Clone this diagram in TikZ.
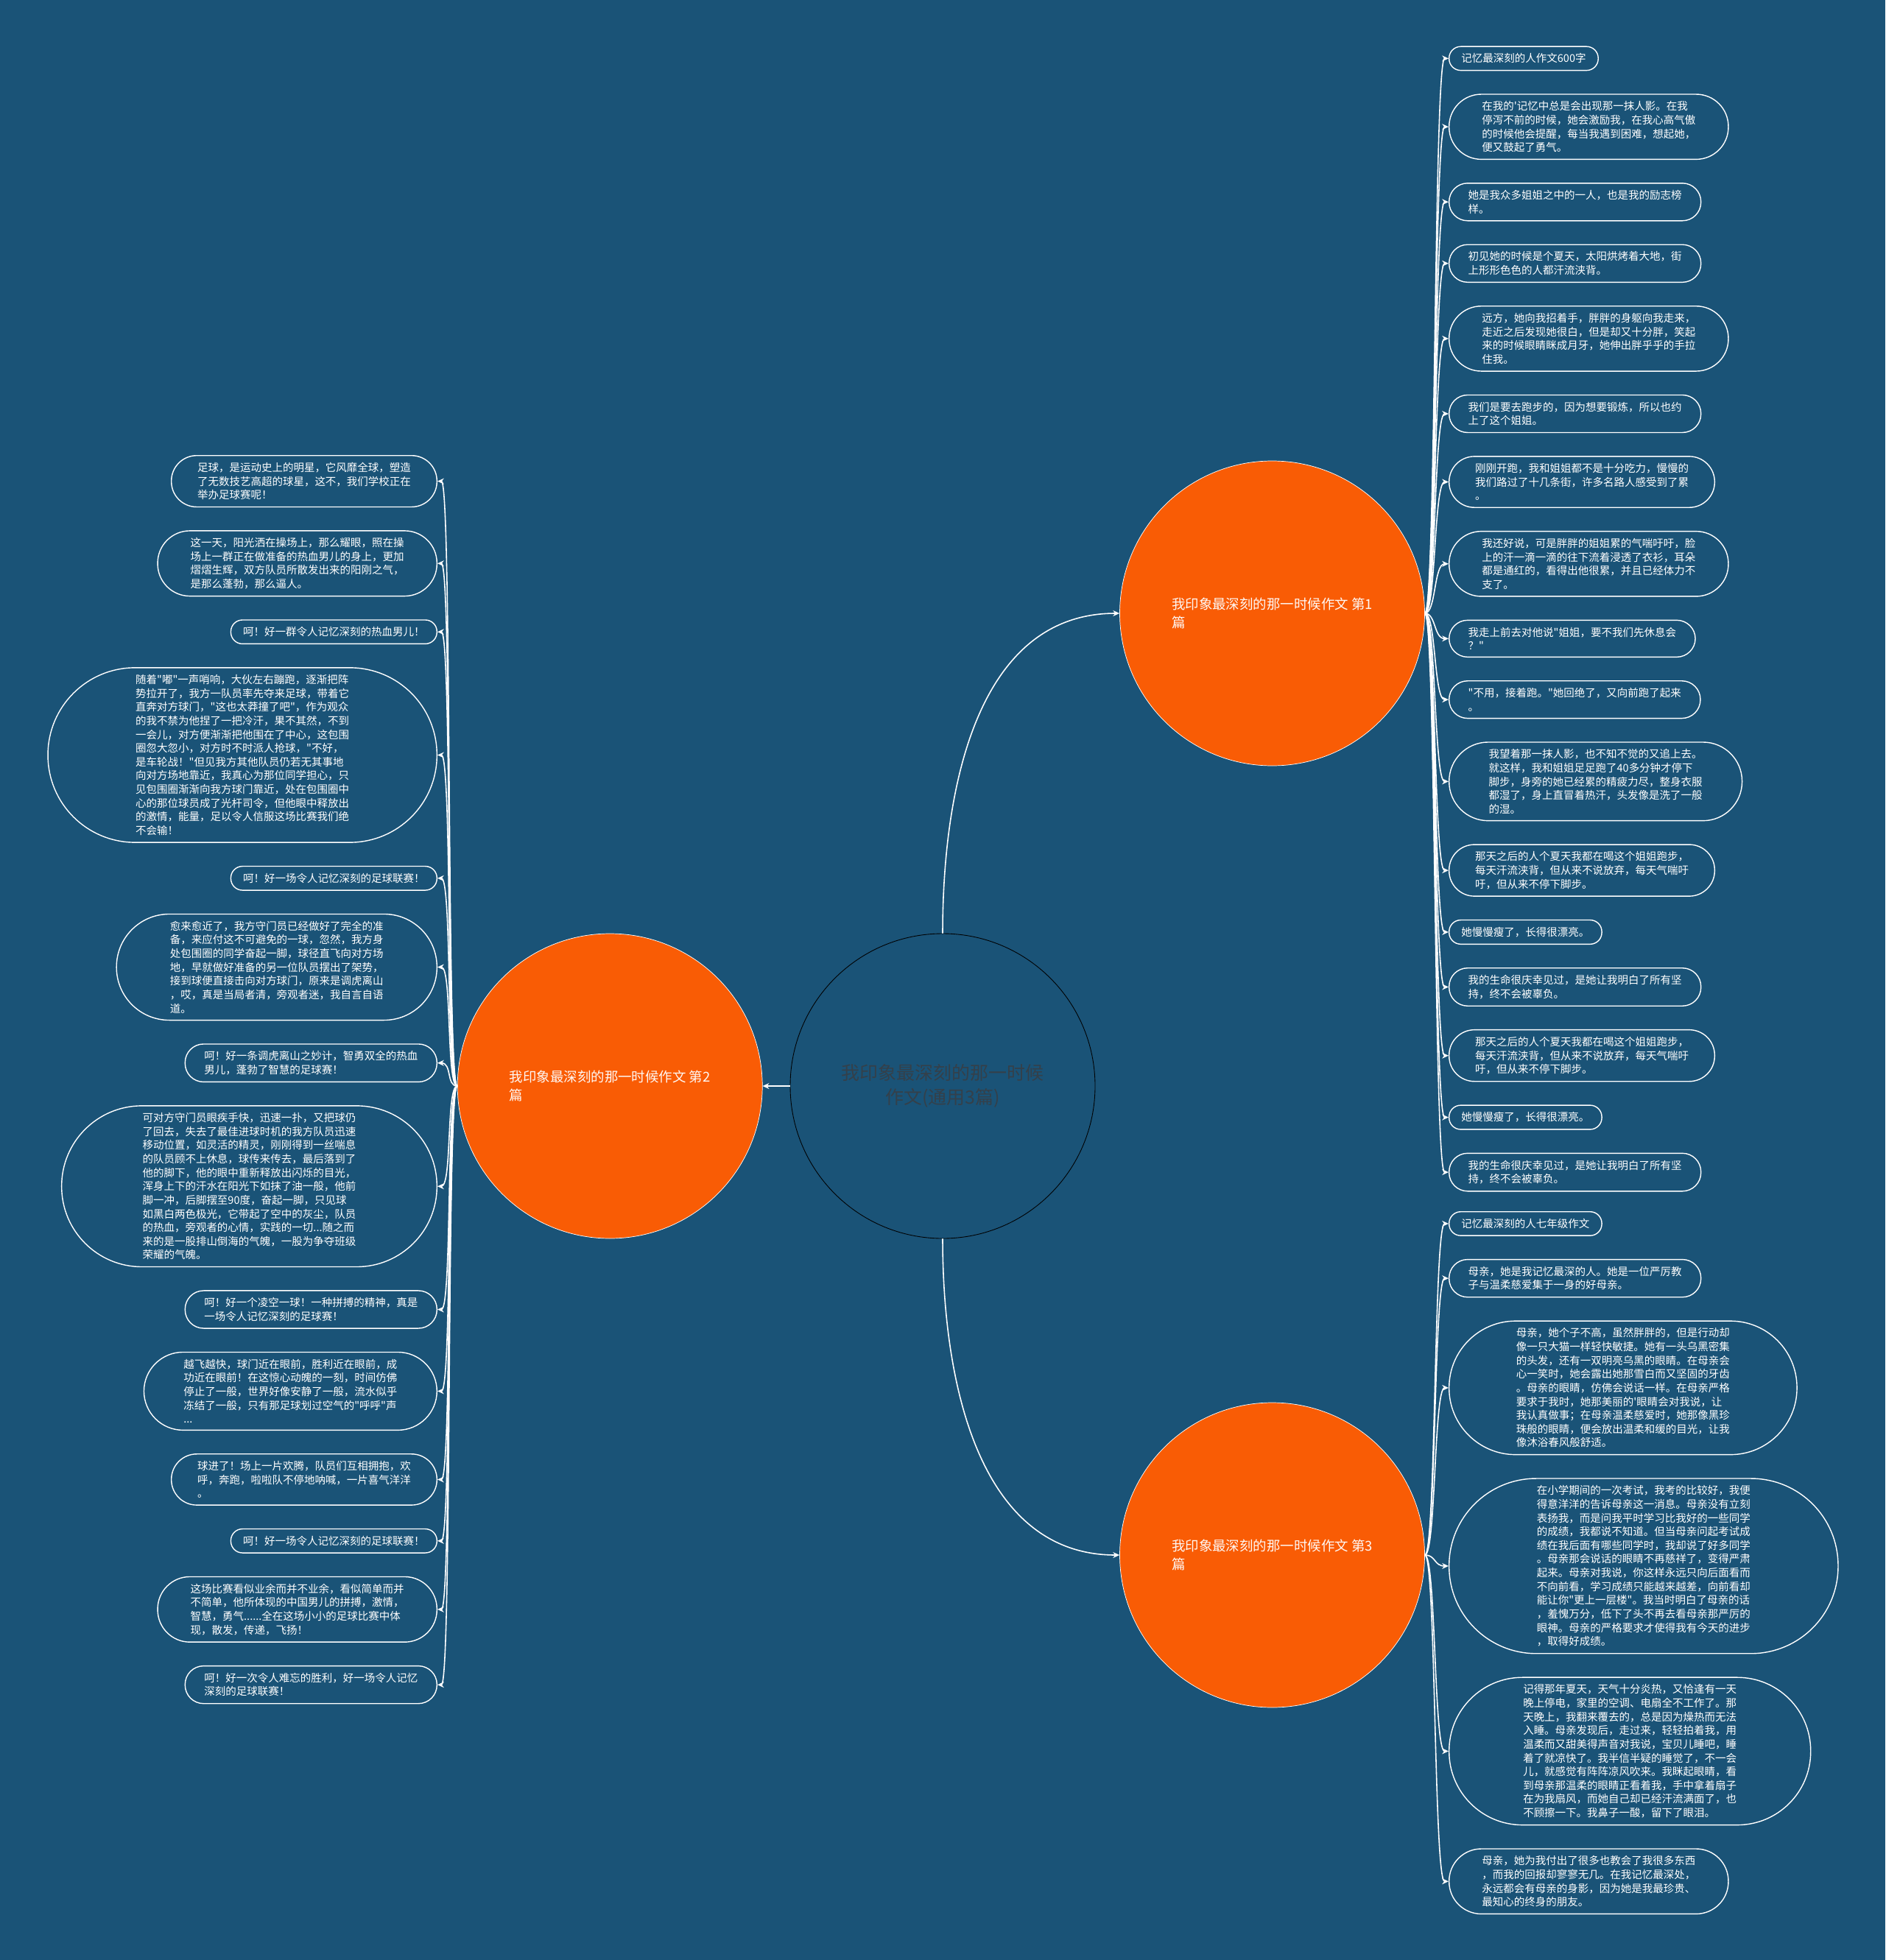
\documentclass[tikz,border=0pt]{standalone}
\usepackage{fontspec}
\usepackage{xcolor}
\usepackage{tikz}
\usetikzlibrary{arrows.meta, positioning, calc}
\newfontfamily\cjk{Noto Sans CJK SC}
\definecolor{MapBlue}{HTML}{1A5377}
\definecolor{EssayOrange}{HTML}{F95C05}
\definecolor{RootText}{HTML}{34404A}
\newcommand{\leaffont}{\cjk\fontsize{8.25pt}{10.6pt}\selectfont}
\newcommand{\essayfont}{\cjk\fontsize{10.5pt}{14.3pt}\selectfont}
\newcommand{\rootfont}{\cjk\fontsize{14.2pt}{18.8pt}\selectfont}

\begin{document}
\begin{tikzpicture}[
    node distance=0.62cm,
    % #1 = number of text lines, sets the round ends
    leaf/.style={draw=white, line width=0.8pt, rectangle, rounded corners={3.7pt+5.3pt*#1},
                 inner xsep={4.2pt+5.3pt*#1}, inner ysep=5.4pt, align=left, text=white, font=\leaffont},
    essay/.style={circle, fill=EssayOrange, draw=white, line width=0.4pt, minimum size=8.28cm,
                  inner sep=0pt, align=left, text=white!95!EssayOrange, font=\essayfont},
    rootnode/.style={circle, fill=MapBlue, draw=black, line width=0.5pt, minimum size=8.28cm,
                     inner sep=0pt, align=center, text=RootText, font=\rootfont},
    link/.style={-{Stealth[length=5pt, width=4.5pt]}, white, line width=0.9pt}
  ]
    % Background and page frame
    \fill[MapBlue] (0,0) rectangle (51.2,-53.24);
    \useasboundingbox (0,0) rectangle (51.2,-53.24);

    % Centre and the three essays
    \node[rootnode] (root) at (25.6,-29.5) {我印象最深刻的那一时候\\作文(通用3篇)};
    \node[essay] (essay1) at (34.55,-16.66) {我印象最深刻的那一时候作文 第1\\篇};
    \node[essay, left=0.74cm of root] (essay2) {我印象最深刻的那一时候作文 第2\\篇};
    \node[essay] (essay3) at (34.55,-42.24) {我印象最深刻的那一时候作文 第3\\篇};

    % Essay 1 paragraphs
    \node[leaf=1, anchor=north west] (a1) at (39.34,-1.25) {记忆最深刻的人作文600字};
    \node[leaf=4, below=of a1.south west, anchor=north west] (a2)
      {在我的'记忆中总是会出现那一抹人影。在我\\停泻不前的时候，她会激励我，在我心高气傲\\的时候他会提醒，每当我遇到困难，想起她，\\便又鼓起了勇气。};
    \node[leaf=2, below=of a2.south west, anchor=north west] (a3)
      {她是我众多姐姐之中的一人，也是我的励志榜\\样。};
    \node[leaf=2, below=of a3.south west, anchor=north west] (a4)
      {初见她的时候是个夏天，太阳烘烤着大地，街\\上形形色色的人都汗流浃背。};
    \node[leaf=4, below=of a4.south west, anchor=north west] (a5)
      {远方，她向我招着手，胖胖的身躯向我走来，\\走近之后发现她很白，但是却又十分胖，笑起\\来的时候眼睛眯成月牙，她伸出胖乎乎的手拉\\住我。};
    \node[leaf=2, below=of a5.south west, anchor=north west] (a6)
      {我们是要去跑步的，因为想要锻炼，所以也约\\上了这个姐姐。};
    \node[leaf=3, below=of a6.south west, anchor=north west] (a7)
      {刚刚开跑，我和姐姐都不是十分吃力，慢慢的\\我们路过了十几条街，许多名路人感受到了累\\。};
    \node[leaf=4, below=of a7.south west, anchor=north west] (a8)
      {我还好说，可是胖胖的姐姐累的气喘吁吁，脸\\上的汗一滴一滴的往下流着浸透了衣衫，耳朵\\都是通红的，看得出他很累，并且已经体力不\\支了。};
    \node[leaf=2, below=of a8.south west, anchor=north west] (a9)
      {我走上前去对他说"姐姐，要不我们先休息会\\？"};
    \node[leaf=2, below=of a9.south west, anchor=north west] (a10)
      {"不用，接着跑。"她回绝了，又向前跑了起来\\。};
    \node[leaf=5, below=of a10.south west, anchor=north west] (a11)
      {我望着那一抹人影，也不知不觉的又追上去。\\就这样，我和姐姐足足跑了40多分钟才停下\\脚步，身旁的她已经累的精疲力尽，整身衣服\\都湿了，身上直冒着热汗，头发像是洗了一般\\的湿。};
    \node[leaf=3, below=of a11.south west, anchor=north west] (a12)
      {那天之后的人个夏天我都在喝这个姐姐跑步，\\每天汗流浃背，但从来不说放弃，每天气喘吁\\吁，但从来不停下脚步。};
    \node[leaf=1, below=of a12.south west, anchor=north west] (a13) {她慢慢瘦了，长得很漂亮。};
    \node[leaf=2, below=of a13.south west, anchor=north west] (a14)
      {我的生命很庆幸见过，是她让我明白了所有坚\\持，终不会被辜负。};
    \node[leaf=3, below=of a14.south west, anchor=north west] (a15)
      {那天之后的人个夏天我都在喝这个姐姐跑步，\\每天汗流浃背，但从来不说放弃，每天气喘吁\\吁，但从来不停下脚步。};
    \node[leaf=1, below=of a15.south west, anchor=north west] (a16) {她慢慢瘦了，长得很漂亮。};
    \node[leaf=2, below=of a16.south west, anchor=north west] (a17)
      {我的生命很庆幸见过，是她让我明白了所有坚\\持，终不会被辜负。};

    % Essay 2 paragraphs
    \node[leaf=3, anchor=north east] (b1) at (11.88,-12.36)
      {足球，是运动史上的明星，它风靡全球，塑造\\了无数技艺高超的球星，这不，我们学校正在\\举办足球赛呢！};
    \node[leaf=4, below=of b1.south east, anchor=north east] (b2)
      {这一天，阳光洒在操场上，那么耀眼，照在操\\场上一群正在做准备的热血男儿的身上，更加\\熠熠生辉，双方队员所散发出来的阳刚之气，\\是那么蓬勃，那么逼人。};
    \node[leaf=1, below=of b2.south east, anchor=north east] (b3) {呵！好一群令人记忆深刻的热血男儿！};
    \node[leaf=12, below=of b3.south east, anchor=north east] (b4)
      {随着"嘟"一声哨响，大伙左右蹦跑，逐渐把阵\\势拉开了，我方一队员率先夺来足球，带着它\\直奔对方球门，"这也太莽撞了吧"，作为观众\\的我不禁为他捏了一把冷汗，果不其然，不到\\一会儿，对方便渐渐把他围在了中心，这包围\\圈忽大忽小，对方时不时派人抢球，"不好，\\是车轮战！"但见我方其他队员仍若无其事地\\向对方场地靠近，我真心为那位同学担心，只\\见包围圈渐渐向我方球门靠近，处在包围圈中\\心的那位球员成了光杆司令，但他眼中释放出\\的激情，能量，足以令人信服这场比赛我们绝\\不会输！};
    \node[leaf=1, below=of b4.south east, anchor=north east] (b5) {呵！好一场令人记忆深刻的足球联赛！};
    \node[leaf=7, below=of b5.south east, anchor=north east] (b6)
      {愈来愈近了，我方守门员已经做好了完全的准\\备，来应付这不可避免的一球，忽然，我方身\\处包围圈的同学奋起一脚，球径直飞向对方场\\地，早就做好准备的另一位队员摆出了架势，\\接到球便直接击向对方球门，原来是调虎离山\\，哎，真是当局者清，旁观者迷，我自言自语\\道。};
    \node[leaf=2, below=of b6.south east, anchor=north east] (b7)
      {呵！好一条调虎离山之妙计，智勇双全的热血\\男儿，蓬勃了智慧的足球赛！};
    \node[leaf=11, below=of b7.south east, anchor=north east] (b8)
      {可对方守门员眼疾手快，迅速一扑，又把球仍\\了回去，失去了最佳进球时机的我方队员迅速\\移动位置，如灵活的精灵，刚刚得到一丝喘息\\的队员顾不上休息，球传来传去，最后落到了\\他的脚下，他的眼中重新释放出闪烁的目光，\\浑身上下的汗水在阳光下如抹了油一般，他前\\脚一冲，后脚摆至90度，奋起一脚，只见球\\如黑白两色极光，它带起了空中的灰尘，队员\\的热血，旁观者的心情，实践的一切...随之而\\来的是一股排山倒海的气魄，一股为争夺班级\\荣耀的气魄。};
    \node[leaf=2, below=of b8.south east, anchor=north east] (b9)
      {呵！好一个凌空一球！一种拼搏的精神，真是\\一场令人记忆深刻的足球赛！};
    \node[leaf=5, below=of b9.south east, anchor=north east] (b10)
      {越飞越快，球门近在眼前，胜利近在眼前，成\\功近在眼前！在这惊心动魄的一刻，时间仿佛\\停止了一般，世界好像安静了一般，流水似乎\\冻结了一般，只有那足球划过空气的"呼呼"声\\...};
    \node[leaf=3, below=of b10.south east, anchor=north east] (b11)
      {球进了！场上一片欢腾，队员们互相拥抱，欢\\呼，奔跑，啦啦队不停地呐喊，一片喜气洋洋\\。};
    \node[leaf=1, below=of b11.south east, anchor=north east] (b12) {呵！好一场令人记忆深刻的足球联赛！};
    \node[leaf=4, below=of b12.south east, anchor=north east] (b13)
      {这场比赛看似业余而并不业余，看似简单而并\\不简单，他所体现的中国男儿的拼搏，激情，\\智慧，勇气......全在这场小小的足球比赛中体\\现，散发，传递，飞扬！};
    \node[leaf=2, below=of b13.south east, anchor=north east] (b14)
      {呵！好一次令人难忘的胜利，好一场令人记忆\\深刻的足球联赛！};

    % Essay 3 paragraphs
    \node[leaf=1, anchor=north west] (c1) at (39.34,-32.9) {记忆最深刻的人七年级作文};
    \node[leaf=2, below=of c1.south west, anchor=north west] (c2)
      {母亲，她是我记忆最深的人。她是一位严厉教\\子与温柔慈爱集于一身的好母亲。};
    \node[leaf=9, below=of c2.south west, anchor=north west] (c3)
      {母亲，她个子不高，虽然胖胖的，但是行动却\\像一只大猫一样轻快敏捷。她有一头乌黑密集\\的头发，还有一双明亮乌黑的眼睛。在母亲会\\心一笑时，她会露出她那雪白而又坚固的牙齿\\。母亲的眼睛，仿佛会说话一样。在母亲严格\\要求于我时，她那美丽的'眼睛会对我说，让\\我认真做事；在母亲温柔慈爱时，她那像黑珍\\珠般的眼睛，便会放出温柔和缓的目光，让我\\像沐浴春风般舒适。};
    \node[leaf=12, below=of c3.south west, anchor=north west] (c4)
      {在小学期间的一次考试，我考的比较好，我便\\得意洋洋的告诉母亲这一消息。母亲没有立刻\\表扬我，而是问我平时学习比我好的一些同学\\的成绩，我都说不知道。但当母亲问起考试成\\绩在我后面有哪些同学时，我却说了好多同学\\。母亲那会说话的眼睛不再慈祥了，变得严肃\\起来。母亲对我说，你这样永远只向后面看而\\不向前看，学习成绩只能越来越差，向前看却\\能让你"更上一层楼"。我当时明白了母亲的话\\，羞愧万分，低下了头不再去看母亲那严厉的\\眼神。母亲的严格要求才使得我有今天的进步\\，取得好成绩。};
    \node[leaf=10, below=of c4.south west, anchor=north west] (c5)
      {记得那年夏天，天气十分炎热，又恰逢有一天\\晚上停电，家里的空调、电扇全不工作了。那\\天晚上，我翻来覆去的，总是因为燥热而无法\\入睡。母亲发现后，走过来，轻轻拍着我，用\\温柔而又甜美得声音对我说，宝贝儿睡吧，睡\\着了就凉快了。我半信半疑的睡觉了，不一会\\儿，就感觉有阵阵凉风吹来。我眯起眼睛，看\\到母亲那温柔的眼睛正看着我，手中拿着扇子\\在为我扇风，而她自己却已经汗流满面了，也\\不顾擦一下。我鼻子一酸，留下了眼泪。};
    \node[leaf=4, below=of c5.south west, anchor=north west] (c6)
      {母亲，她为我付出了很多也教会了我很多东西\\，而我的回报却寥寥无几。在我记忆最深处，\\永远都会有母亲的身影，因为她是我最珍贵、\\最知心的终身的朋友。};

    % Centre to essays
    \draw[link] (root.north) to[out=90, in=180] (essay1.west);
    \draw[link] (root.west) -- (essay2.east);
    \draw[link] (root.south) to[out=-90, in=180] (essay3.west);

    % Essay 1 to its paragraphs
    \draw[link] (essay1.east) .. controls +(0.3,0) and +(-0.4,0) .. (a1.west);
    \draw[link] (essay1.east) .. controls +(0.3,0) and +(-0.4,0) .. (a2.west);
    \draw[link] (essay1.east) .. controls +(0.3,0) and +(-0.4,0) .. (a3.west);
    \draw[link] (essay1.east) .. controls +(0.3,0) and +(-0.4,0) .. (a4.west);
    \draw[link] (essay1.east) .. controls +(0.3,0) and +(-0.4,0) .. (a5.west);
    \draw[link] (essay1.east) .. controls +(0.3,0) and +(-0.4,0) .. (a6.west);
    \draw[link] (essay1.east) .. controls +(0.3,0) and +(-0.4,0) .. (a7.west);
    \draw[link] (essay1.east) .. controls +(0.3,0) and +(-0.4,0) .. (a8.west);
    \draw[link] (essay1.east) .. controls +(0.3,0) and +(-0.4,0) .. (a9.west);
    \draw[link] (essay1.east) .. controls +(0.3,0) and +(-0.4,0) .. (a10.west);
    \draw[link] (essay1.east) .. controls +(0.3,0) and +(-0.4,0) .. (a11.west);
    \draw[link] (essay1.east) .. controls +(0.3,0) and +(-0.4,0) .. (a12.west);
    \draw[link] (essay1.east) .. controls +(0.3,0) and +(-0.4,0) .. (a13.west);
    \draw[link] (essay1.east) .. controls +(0.3,0) and +(-0.4,0) .. (a14.west);
    \draw[link] (essay1.east) .. controls +(0.3,0) and +(-0.4,0) .. (a15.west);
    \draw[link] (essay1.east) .. controls +(0.3,0) and +(-0.4,0) .. (a16.west);
    \draw[link] (essay1.east) .. controls +(0.3,0) and +(-0.4,0) .. (a17.west);

    % Essay 2 to its paragraphs
    \draw[link] (essay2.west) .. controls +(-0.3,0) and +(0.4,0) .. (b1.east);
    \draw[link] (essay2.west) .. controls +(-0.3,0) and +(0.4,0) .. (b2.east);
    \draw[link] (essay2.west) .. controls +(-0.3,0) and +(0.4,0) .. (b3.east);
    \draw[link] (essay2.west) .. controls +(-0.3,0) and +(0.4,0) .. (b4.east);
    \draw[link] (essay2.west) .. controls +(-0.3,0) and +(0.4,0) .. (b5.east);
    \draw[link] (essay2.west) .. controls +(-0.3,0) and +(0.4,0) .. (b6.east);
    \draw[link] (essay2.west) .. controls +(-0.3,0) and +(0.4,0) .. (b7.east);
    \draw[link] (essay2.west) .. controls +(-0.3,0) and +(0.4,0) .. (b8.east);
    \draw[link] (essay2.west) .. controls +(-0.3,0) and +(0.4,0) .. (b9.east);
    \draw[link] (essay2.west) .. controls +(-0.3,0) and +(0.4,0) .. (b10.east);
    \draw[link] (essay2.west) .. controls +(-0.3,0) and +(0.4,0) .. (b11.east);
    \draw[link] (essay2.west) .. controls +(-0.3,0) and +(0.4,0) .. (b12.east);
    \draw[link] (essay2.west) .. controls +(-0.3,0) and +(0.4,0) .. (b13.east);
    \draw[link] (essay2.west) .. controls +(-0.3,0) and +(0.4,0) .. (b14.east);

    % Essay 3 to its paragraphs
    \draw[link] (essay3.east) .. controls +(0.3,0) and +(-0.4,0) .. (c1.west);
    \draw[link] (essay3.east) .. controls +(0.3,0) and +(-0.4,0) .. (c2.west);
    \draw[link] (essay3.east) .. controls +(0.3,0) and +(-0.4,0) .. (c3.west);
    \draw[link] (essay3.east) .. controls +(0.3,0) and +(-0.4,0) .. (c4.west);
    \draw[link] (essay3.east) .. controls +(0.3,0) and +(-0.4,0) .. (c5.west);
    \draw[link] (essay3.east) .. controls +(0.3,0) and +(-0.4,0) .. (c6.west);

  \end{tikzpicture}
\end{document}
